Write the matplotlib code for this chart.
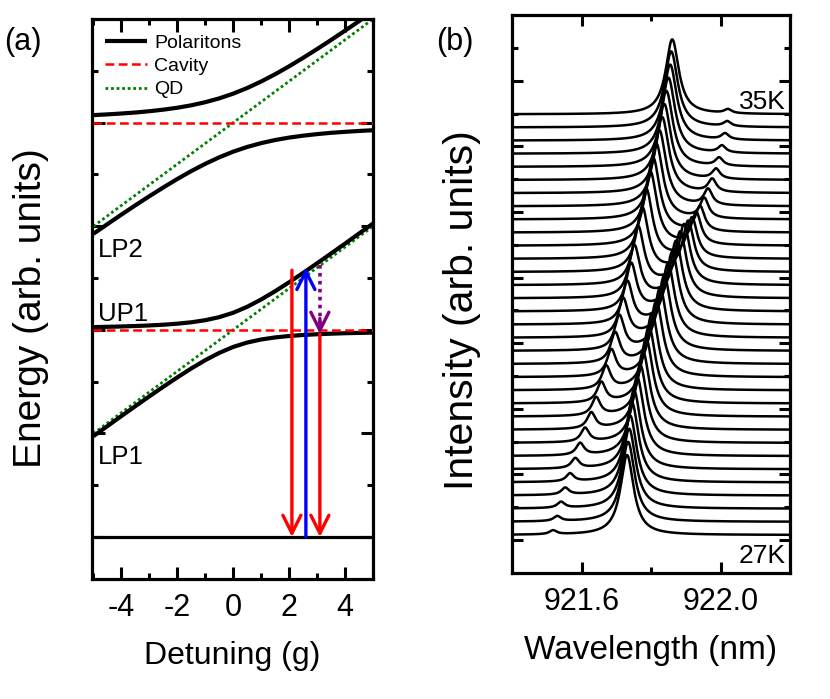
import numpy as np
import matplotlib
matplotlib.use("Agg")
import matplotlib.pyplot as plt
from matplotlib.patches import FancyArrowPatch

plt.rcParams['font.family'] = ['Liberation Sans', 'DejaVu Sans']

# ---------------- Panel (a) data ----------------
detuning = [-5, -4.5, -4, -3.5, -3, -2.5, -2, -1.5, -1, -0.5, 0,
            0.5, 1, 1.5, 2, 2.5, 3, 3.5, 4, 4.5, 5]
lp1 = [1.947, 2.141, 2.335, 2.526, 2.715, 2.901, 3.081, 3.254, 3.414, 3.555, 3.670,
       3.755, 3.814, 3.854, 3.881, 3.901, 3.915, 3.926, 3.935, 3.941, 3.947]
up1 = [4.053, 4.059, 4.065, 4.074, 4.085, 4.099, 4.119, 4.146, 4.186, 4.245, 4.330,
       4.445, 4.586, 4.746, 4.919, 5.099, 5.285, 5.474, 5.665, 5.859, 6.053]
lp2 = [5.854, 6.040, 6.224, 6.404, 6.579, 6.749, 6.912, 7.065, 7.205, 7.331, 7.440,
       7.531, 7.605, 7.665, 7.712, 7.749, 7.779, 7.804, 7.823, 7.840, 7.854]
up2 = [8.146, 8.160, 8.177, 8.196, 8.221, 8.251, 8.288, 8.335, 8.395, 8.469, 8.560,
       8.669, 8.795, 8.935, 9.088, 9.251, 9.421, 9.596, 9.777, 9.960, 10.146]
cavity_levels = [4.0, 8.0]
qd_ends_x = [-5, 5]
qd1_ends = [2.0, 6.0]
qd2_ends = [6.0, 10.0]
ground = 0.0
# transitions: (x, E_start, E_end)
red1 = (2.1, 5.15, 0.0)
blue = (2.6, 0.0, 5.2)
purple = (3.1, 5.25, 3.92)
red2 = (3.1, 3.92, 0.0)
branch_labels = ['LP2', 'UP1', 'LP1']
branch_label_y = [5.55, 4.3, 1.55]

# ---------------- Panel (b) data ----------------
temps_label = ['27K', '35K']
# peak 1: weak at 27K (short wavelength), dominant at 35K
peak1_wl = [921.518, 921.530, 921.541, 921.553, 921.567, 921.582, 921.596, 921.610,
            921.628, 921.642, 921.657, 921.671, 921.686, 921.697, 921.709, 921.720,
            921.732, 921.743, 921.752, 921.763, 921.775, 921.786, 921.798, 921.806,
            921.815, 921.824, 921.832, 921.838, 921.844, 921.850, 921.855, 921.858,
            921.861]
peak1_h = [0.30, 0.38, 0.46, 0.53, 0.61, 0.76, 0.91, 1.06, 1.22, 1.37, 1.52, 1.75,
           1.98, 2.28, 2.59, 2.89, 3.19, 3.57, 3.95, 4.41, 4.87, 5.32, 5.63, 5.70,
           5.78, 5.78, 5.78, 5.78, 5.78, 5.78, 5.78, 5.78, 5.70]
# peak 2: dominant at 27K, weak at 35K (long wavelength)
peak2_wl = [921.731, 921.734, 921.737, 921.740, 921.745, 921.751, 921.760, 921.769,
            921.777, 921.786, 921.794, 921.803, 921.815, 921.826, 921.838, 921.849,
            921.861, 921.872, 921.884, 921.895, 921.907, 921.918, 921.930, 921.941,
            921.953, 921.964, 921.976, 921.987, 921.996, 922.004, 922.013, 922.019,
            922.021]
peak2_h = [6.08, 6.08, 6.08, 6.08, 6.08, 6.01, 6.01, 5.93, 5.93, 5.93, 5.86, 5.86,
           5.78, 5.78, 5.70, 5.63, 5.48, 5.32, 5.02, 4.56, 3.80, 3.04, 2.43, 1.90,
           1.52, 1.22, 0.99, 0.76, 0.61, 0.53, 0.46, 0.38, 0.30]
hwhm_big = 0.023
hwhm_small = 0.012

# ---------------- Figure ----------------
fig = plt.figure(figsize=(8.30, 6.99), dpi=100)
ax1 = fig.add_axes([0.1108, 0.1717, 0.3386, 0.801])
ax2 = fig.add_axes([0.6169, 0.1803, 0.335, 0.798])

LW_SP = 2.3
for ax in (ax1, ax2):
    for s in ax.spines.values():
        s.set_linewidth(LW_SP)

# ---- panel (a)
ax1.plot(detuning, lp1, color='black', lw=3.0, solid_capstyle='butt', zorder=3, label='Polaritons')
ax1.plot(detuning, up1, color='black', lw=3.0, solid_capstyle='butt', zorder=3)
ax1.plot(detuning, lp2, color='black', lw=3.0, solid_capstyle='butt', zorder=3)
ax1.plot(detuning, up2, color='black', lw=3.0, solid_capstyle='butt', zorder=3)
for k, c in enumerate(cavity_levels):
    ax1.plot(qd_ends_x, [c, c], color='red', lw=1.8, dashes=(3.5, 1.8), zorder=4,
             label='Cavity' if k == 0 else None)
ax1.plot(qd_ends_x, qd1_ends, color='green', lw=2.0, dashes=(1, 1), zorder=2, label='QD')
ax1.plot(qd_ends_x, qd2_ends, color='green', lw=2.0, dashes=(1, 1), zorder=2)
ax1.axhline(ground, color='black', lw=2.3, zorder=3)

def arrow(ax, x, y0, y1, color, ls='-'):
    if ls == '-':
        p = FancyArrowPatch((x, y0), (x, y1), arrowstyle='->,head_length=13,head_width=6.5',
                            mutation_scale=1, color=color, lw=2.4, shrinkA=0, shrinkB=0,
                            zorder=6)
        ax.add_patch(p)
    else:
        ax.plot([x, x], [y0, y1 + 0.15], color=color, lw=2.6, dashes=(1, 1.2), zorder=6)
        p = FancyArrowPatch((x, y1 + 0.3), (x, y1), arrowstyle='->,head_length=13,head_width=6.5',
                            mutation_scale=1, color=color, lw=2.4, shrinkA=0, shrinkB=0,
                            zorder=6)
        ax.add_patch(p)

arrow(ax1, red1[0], red1[1], red1[2], 'red')
arrow(ax1, blue[0], blue[1], blue[2], 'blue')
arrow(ax1, purple[0], purple[1], purple[2], 'purple', ls=':')
arrow(ax1, red2[0], red2[1], red2[2], 'red')

for lab, yy in zip(branch_labels, branch_label_y):
    ax1.text(-4.85, yy, lab, fontsize=18.5, ha='left', va='center')

ax1.set_xlim(-5.05, 5.0)
ax1.set_ylim(-0.81, 10.0)
ax1.set_xticks([-4, -2, 0, 2, 4])
ax1.set_xticks([-5, -3, -1, 1, 3, 5], minor=True)
ax1.set_xticklabels(['-4', '-2', '0', '2', '4'])
ax1.set_yticks([0, 2, 4, 6, 8])
ax1.set_yticks([1, 3, 5, 7, 9], minor=True)
ax1.set_yticklabels([])
ax1.tick_params(which='both', direction='in', top=True, right=True, width=2.2,
                labelsize=22, pad=10)
ax1.tick_params(which='major', length=9)
ax1.tick_params(which='minor', length=4.5)
ax1.set_xlabel('Detuning (g)', fontsize=23, labelpad=13)
ax1.set_ylabel('Energy (arb. units)', fontsize=28)
ax1.yaxis.set_label_coords(-0.153, 0.484)

leg = ax1.legend(loc='upper left', bbox_to_anchor=(-0.01, 1.0), frameon=False, fontsize=14,
                 handlelength=2.2, handletextpad=0.35, labelspacing=0.28, borderaxespad=0.4)

# ---- panel (b)
wl = np.linspace(921.4, 922.2, 1601)
for i in range(len(peak1_wl)):
    w1 = hwhm_small + (hwhm_big - hwhm_small) * min(peak1_h[i] / 5.8, 1.0)
    w2 = hwhm_small + (hwhm_big - hwhm_small) * min(peak2_h[i] / 5.8, 1.0)
    spec = (peak1_h[i] / (1 + ((wl - peak1_wl[i]) / w1) ** 2)
            + peak2_h[i] / (1 + ((wl - peak2_wl[i]) / w2) ** 2))
    ax2.plot(wl, i + spec, color='black', lw=1.8, zorder=3)

ax2.set_xlim(921.4, 922.2)
ax2.set_ylim(-2.89, 39.54)
ax2.set_xticks([921.6, 922.0])
ax2.set_xticks([921.8], minor=True)
ax2.set_xticklabels(['921.6', '922.0'])
ax2.set_yticks([-0.38 + 4.99 * k for k in range(8)])
ax2.set_yticks([-0.38 + 2.495 + 4.99 * k for k in range(8)], minor=True)
ax2.set_yticklabels([])
ax2.tick_params(which='both', direction='in', top=True, right=True, width=2.2,
                labelsize=22, pad=10)
ax2.tick_params(which='major', length=8)
ax2.tick_params(which='minor', length=4)
ax2.set_xlabel('Wavelength (nm)', fontsize=24, labelpad=13)
ax2.set_ylabel('Intensity (arb. units)', fontsize=29.5)
ax2.yaxis.set_label_coords(-0.111, 0.471)
ax2.text(0.985, 0.845, temps_label[1], transform=ax2.transAxes, ha='right', va='center', fontsize=19)
ax2.text(0.985, 0.03, temps_label[0], transform=ax2.transAxes, ha='right', va='center', fontsize=19)

fig.text(0.005, 0.94, '(a)', fontsize=22, ha='left', va='center')
fig.text(0.525, 0.94, '(b)', fontsize=22, ha='left', va='center')

fig.savefig('out.png', dpi=100)
